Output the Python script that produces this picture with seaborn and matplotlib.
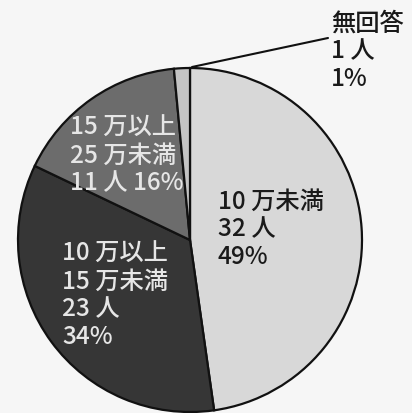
import matplotlib.pyplot as plt
import seaborn as sns

# 月収の分布 (人数)
categories = ["10 万未満", "10 万以上\n15 万未満", "15 万以上\n25 万未満", "無回答"]
counts = [32, 23, 11, 1]
percents = ["49%", "34%", "16%", "1%"]

sns.set_style("white")
plt.rcParams['font.family'] = ['Noto Sans CJK JP', 'DejaVu Sans']

colors = ["#d8d8d8", "#363636", "#6c6c6c", "#c4c4c4"]

fig = plt.figure(figsize=(4.12, 4.13), dpi=100, facecolor="#f6f6f6")
ax = fig.add_axes([0, 0, 1, 1])
ax.set_facecolor("#f6f6f6")

# 画像座標 (上から y) -> データ座標
H = 413
cx, cy, r = 190, 240, 172

ax.pie(counts, colors=colors, startangle=90, counterclock=False,
       center=(cx, H - cy), radius=r,
       wedgeprops=dict(edgecolor="#111111", linewidth=1.6))

# ラベル
lab0 = f"{categories[0]}\n{counts[0]} 人\n{percents[0]}"
lab1 = f"{categories[1]}\n{counts[1]} 人\n{percents[1]}"
lab2 = f"{categories[2]}\n{counts[2]} 人 {percents[2]}"
lab3 = f"{categories[3]}\n{counts[3]} 人\n{percents[3]}"

fs = 17.5
kw = dict(fontsize=fs, va="top", ha="left", linespacing=1.08, fontweight="medium")
ax.text(218, H - 189, lab0, color="#1a1a1a", **kw)
ax.text(62, H - 241, lab1, color="#e6e6e6", **kw)
ax.text(70, H - 115, lab2, color="#e6e6e6", **kw)
ax.text(331, H - 11, lab3, color="#1a1a1a", **kw)

# 無回答の引出し線
ax.plot([192, 328], [H - 67, H - 38], color="#111111", linewidth=1.5)

ax.set_xlim(0, 412)
ax.set_ylim(0, H)
ax.set_aspect("equal")
ax.axis("off")

fig.savefig("out.png", dpi=100, facecolor=fig.get_facecolor())
